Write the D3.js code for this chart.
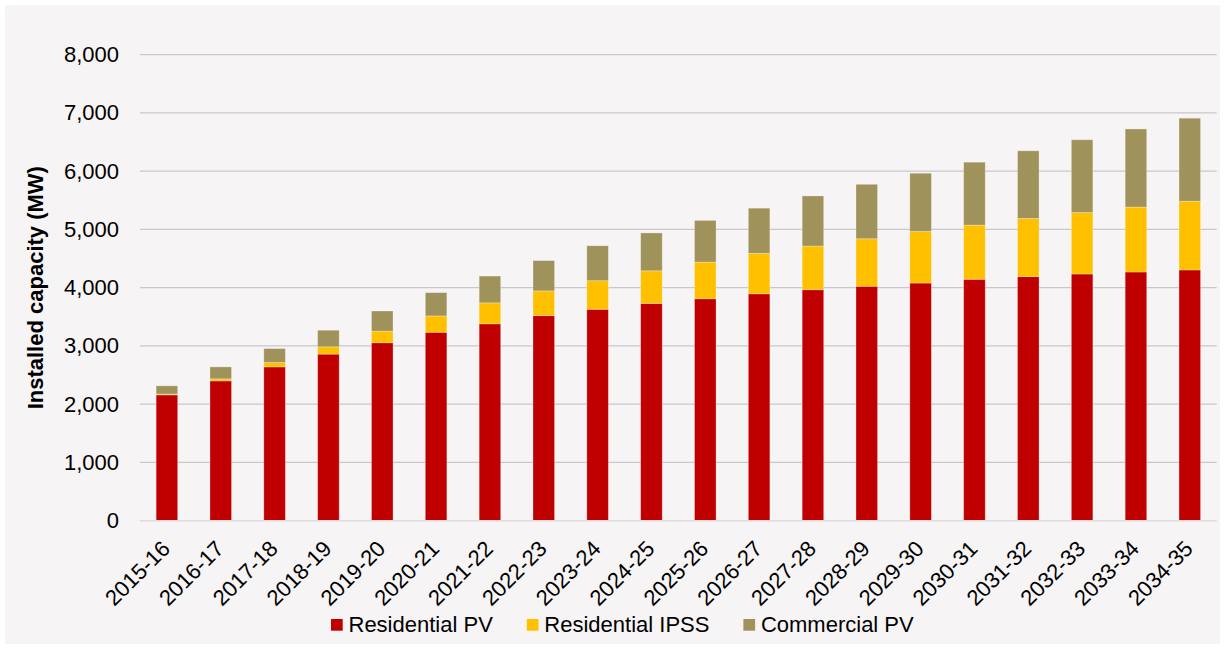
<!DOCTYPE html>
<html>
<head>
<meta charset="utf-8">
<script src="https://cdn.jsdelivr.net/npm/d3@7"></script>
<style>
  html, body { margin: 0; padding: 0; background: #ffffff; }
  svg { display: block; font-family: Arial, "Liberation Sans", Helvetica, sans-serif; }
</style>
</head>
<body>
<svg id="chart" width="1225" height="648"></svg>
<script>
const categories = ["2015-16","2016-17","2017-18","2018-19","2019-20","2020-21","2021-22","2022-23","2023-24","2024-25","2025-26","2026-27","2027-28","2028-29","2029-30","2030-31","2031-32","2032-33","2033-34","2034-35"];
const residentialPV = [2160,2400,2640,2860,3055,3235,3380,3520,3630,3730,3810,3895,3965,4025,4080,4145,4190,4235,4270,4305];
const residentialIPSS = [15,35,75,125,200,280,360,425,490,560,630,695,750,815,885,930,1000,1055,1115,1180];
const commercialPV = [140,205,240,285,345,400,460,520,600,650,715,775,860,935,1000,1080,1160,1250,1340,1425];
const yTicks = [0,1000,2000,3000,4000,5000,6000,7000,8000];
const seriesNames = ["Residential PV","Residential IPSS","Commercial PV"];
const seriesColors = ["#c00000","#ffc000","#a0925b"];

const svg = d3.select("#chart");
svg.append("rect").attr("x",5).attr("y",5).attr("width",1215).attr("height",639).attr("fill","#f6f4f5");

const x = d3.scaleBand().domain(categories).range([140,1216.7]).paddingInner(0.6).paddingOuter(0.3);
const y = d3.scaleLinear().domain([0,8000]).range([520.7,54.7]);

// gridlines
svg.append("g").selectAll("line").data(yTicks.filter(d=>d>0)).join("line")
  .attr("x1",140).attr("x2",1216.7)
  .attr("y1",d=>y(d)).attr("y2",d=>y(d))
  .attr("stroke","#c9c7c8").attr("stroke-width",1.2);

// y axis labels
const yAxis = d3.axisLeft(y).tickValues(yTicks).tickFormat(d3.format(",")).tickSize(0).tickPadding(21);
const gy = svg.append("g").attr("transform","translate(140,0)").call(yAxis);
gy.select(".domain").remove();
gy.selectAll("text").attr("font-size",22).attr("fill","#000").attr("font-family","Arial, 'Liberation Sans', sans-serif");

// stacked bars
const rows = categories.map((c,i)=>({cat:c, "Residential PV":residentialPV[i], "Residential IPSS":residentialIPSS[i], "Commercial PV":commercialPV[i]}));
const stack = d3.stack().keys(seriesNames)(rows);
svg.append("g").selectAll("g").data(stack).join("g")
  .attr("fill",(d,i)=>seriesColors[i])
  .selectAll("rect").data(d=>d).join("rect")
  .attr("x",d=>x(d.data.cat))
  .attr("width",x.bandwidth())
  .attr("y",d=>y(d[1]))
  .attr("height",d=>y(d[0])-y(d[1]))
  .attr("stroke","rgba(255,255,255,0.35)").attr("stroke-width",0.8);

// zero line
svg.append("line").attr("x1",140).attr("x2",1216.7).attr("y1",y(0)).attr("y2",y(0))
  .attr("stroke","#dcdadb").attr("stroke-width",1.5);

// x axis labels
const xAxis = d3.axisBottom(x).tickSize(0).tickPadding(0);
const gx = svg.append("g").attr("transform","translate(0,0)").call(xAxis);
gx.select(".domain").remove();
gx.selectAll(".tick").attr("transform",d=>`translate(${x(d)+x.bandwidth()/2+4.5},550)`);
gx.selectAll("text").attr("font-size",22).attr("fill","#000")
  .attr("font-family","Arial, 'Liberation Sans', sans-serif")
  .attr("text-anchor","end").attr("dy",0).attr("y",0).attr("x",0)
  .attr("transform","rotate(-45)");

// y title
svg.append("text")
  .attr("transform",`translate(43,${(y(0)+y(8000))/2}) rotate(-90)`)
  .attr("text-anchor","middle")
  .attr("font-size",22).attr("font-weight","bold").attr("fill","#000")
  .text("Installed capacity (MW)");

// legend
const lg = svg.append("g");
let lx = 331;
seriesNames.forEach((name,i)=>{
  lg.append("rect").attr("x",lx).attr("y",619).attr("width",11.7).attr("height",11.7).attr("fill",seriesColors[i]);
  const t = lg.append("text").attr("x",lx+17.5).attr("y",632.3).attr("font-size",22).attr("fill","#000").text(name);
  const w = t.node().getComputedTextLength();
  lx = lx + 17.5 + w + 34;
});
</script>
</body>
</html>
